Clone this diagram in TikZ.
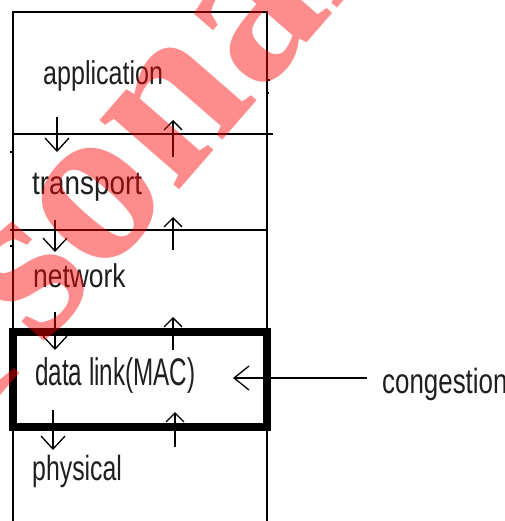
\documentclass[tikz,border=0pt]{standalone}
\usepackage{fontspec}
\usepackage{graphicx}
\setmainfont{Liberation Sans}
\newfontfamily\markfont{Liberation Serif}
\usetikzlibrary{arrows.meta}

% condensed label text: size, horizontal squeeze, text
\newcommand\slimtext[3]{{\fontsize{#1}{#1}\selectfont\scalebox{#2}[1]{#3}}}

\tikzset{
  wire/.style={line width=1.6pt, line cap=rect},
  maclayer/.style={line width=8pt, line join=miter},
  layerlabel/.style={anchor=base west, inner sep=0pt, text=black!88},
  downflow/.style={line width=1.3pt, -{Straight Barb[length=13pt,width=24pt,line width=1.3pt]}},
  upflow/.style={line width=1.3pt, -{Straight Barb[length=9pt,width=18pt,line width=1.3pt]}},
  hint/.style={line width=1.3pt, -{Straight Barb[length=15pt,width=24pt,line width=1.3pt]}},
  stamp/.style={anchor=base west, inner sep=0pt, text=red, text opacity=0.45,
                font=\markfont\bfseries\fontsize{230}{230}\selectfont},
}

\begin{document}
\begin{tikzpicture}[x=1pt,y=-1pt]
  \useasboundingbox (0,0) rectangle (504,521);
  \clip (0,0) rectangle (504,521);
  \fill[white] (0,0) rectangle (504,521);

  % protocol stack frame
  \draw[wire] (13,521) -- (13,12) -- (267,12) -- (267,521);
  \draw[wire] (13,134) -- (272,134);
  \draw[wire] (11,230) -- (267,230);
  \draw[maclayer] (12.5,332) rectangle (267,427);

  % small ticks on the frame
  \draw[line width=1.2pt] (10,152) -- (13,152);
  \draw[line width=1.2pt] (10,246) -- (13,246);
  \draw[line width=1.2pt] (267,80) -- (270,80);
  \draw[line width=1.2pt] (267,93) -- (269,93);

  % layer names
  \node[layerlabel] (app)  at (43,85)  {\slimtext{33}{0.76}{application}};
  \node[layerlabel] (tra)  at (32,195) {\slimtext{33}{0.845}{transport}};
  \node[layerlabel] (net)  at (33,287) {\slimtext{33}{0.80}{network}};
  \node[layerlabel] (mac)  at (35,385) {\slimtext{38.5}{0.63}{data link(MAC)}};
  \node[layerlabel] (phy)  at (32,480) {\slimtext{35}{0.71}{physical}};
  \node[layerlabel] (cong) at (382,393) {\slimtext{35}{0.74}{congestion}};

  % arrow end points between neighbouring layers
  \coordinate (d1a) at (57,117);  \coordinate (d1b) at (57,152);
  \coordinate (u1a) at (173,157); \coordinate (u1b) at (173,120);
  \coordinate (d2a) at (55,220);  \coordinate (d2b) at (55,252);
  \coordinate (u2a) at (173,250); \coordinate (u2b) at (173,217);
  \coordinate (d3a) at (55,312);  \coordinate (d3b) at (55,350);
  \coordinate (u3a) at (173,350); \coordinate (u3b) at (173,317);
  \coordinate (d4a) at (53,410);  \coordinate (d4b) at (53,450);
  \coordinate (u4a) at (175,447); \coordinate (u4b) at (175,412);
  \coordinate (hinta) at (367,378); \coordinate (hintb) at (233,378);

  \draw[downflow] (d1a) -- (d1b);
  \draw[upflow]   (u1a) -- (u1b);
  \draw[downflow] (d2a) -- (d2b);
  \draw[upflow]   (u2a) -- (u2b);
  \draw[downflow] (d3a) -- (d3b);
  \draw[upflow]   (u3a) -- (u3b);
  \draw[downflow] (d4a) -- (d4b);
  \draw[upflow]   (u4a) -- (u4b);
  \draw[hint] (hinta) -- (hintb);

  % watermark
  \node[stamp, rotate=49] (wm) at (-185,609) {Personal};
\end{tikzpicture}
\end{document}
